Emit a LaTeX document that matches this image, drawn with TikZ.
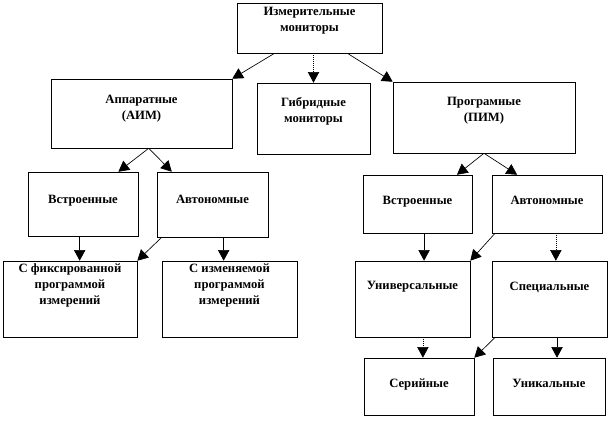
\documentclass[tikz,border=0pt]{standalone}
\usepackage{fontspec}
\setmainfont{Liberation Serif}
\usetikzlibrary{positioning,calc,arrows.meta}

\begin{document}
\begin{tikzpicture}[x=0.75pt,y=-0.75pt,
    blok/.style={draw,inner sep=0pt,align=center,font=\fontsize{9.5}{12}\selectfont\bfseries},
    strelka/.style={-{Triangle[width=8.5pt,length=8pt]},line width=0.5pt}]
    \useasboundingbox (0,0) rectangle (610,426);

    \node[blok,minimum width=108.75pt,minimum height=37.5pt,text depth=13pt] (top) at (309.5,28) {Измерительные\\мониторы};
    \node[blok,minimum width=135.75pt,minimum height=51.75pt,text depth=9.5pt] (apparat) at (141.5,113.5) {Аппаратные\\(АИМ)};
    \node[blok,minimum width=84.75pt,minimum height=53.25pt,text depth=12.5pt] (gibrid) at (313.5,118.5) {Гибридные\\мониторы};
    \node[blok,minimum width=136.5pt,minimum height=53.25pt,text depth=12.5pt] (program) at (484,117.5) {Програмные\\(ПИМ)};

    \node[blok,minimum width=82.5pt,minimum height=48pt,text depth=7.5pt] (vstrL) at (83,204) {Встроенные};
    \node[blok,minimum width=83.25pt,minimum height=48.75pt,text depth=7.5pt] (avtL) at (212.5,204.5) {Автономные};
    \node[blok,minimum width=100.5pt,minimum height=57pt,text depth=23pt] (fix) at (70,299) {С фиксированной\\программой\\измерений};
    \node[blok,minimum width=101.25pt,minimum height=57pt,text depth=23pt] (izm) at (229.5,299) {С изменяемой\\программой\\измерений};

    \node[blok,minimum width=81.75pt,minimum height=43.5pt,text depth=6pt] (vstrR) at (417.5,204) {Встроенные};
    \node[blok,minimum width=82.5pt,minimum height=43.5pt,text depth=6pt] (avtR) at (547,204) {Автономные};
    \node[blok,minimum width=86.25pt,minimum height=57pt,text depth=21pt] (univ) at (412.5,299) {Универсальные};
    \node[blok,minimum width=86.25pt,minimum height=57pt,text depth=19.5pt] (spec) at (549.5,299) {Специальные};
    \node[blok,minimum width=82.5pt,minimum height=42.75pt,text depth=4.5pt] (seri) at (419,386.5) {Серийные};
    \node[blok,minimum width=84pt,minimum height=42.75pt,text depth=4.5pt] (unik) at (549,386.5) {Уникальные};

    % verhnij uroven
    \draw[strelka] ($(top.south west)!0.26!(top.south east)$) -- (apparat.north east);
    \draw[strelka,densely dotted] (gibrid.north |- top.south) -- (gibrid.north);
    \draw[strelka] ($(top.south west)!0.76!(top.south east)$) -- (program.north west);

    % apparatnye
    \draw[strelka] ($(apparat.south west)!0.54!(apparat.south east)$) -- ($(vstrL.north west)!0.82!(vstrL.north east)$);
    \draw[strelka] ($(apparat.south west)!0.54!(apparat.south east)$) -- ($(avtL.north west)!0.135!(avtL.north east)$);
    \draw[strelka] ($(vstrL.south west)!0.47!(vstrL.south east)$) coordinate (a1) -- (a1 |- fix.north);
    \draw[strelka] ($(avtL.south west)!0.045!(avtL.south east)$) -- (fix.north east);
    \draw[strelka] ($(avtL.south west)!0.6!(avtL.south east)$) coordinate (a2) -- (a2 |- izm.north);

    % programnye
    \draw[strelka] (program.south) -- ($(vstrR.north west)!0.86!(vstrR.north east)$);
    \draw[strelka] (program.south) -- ($(avtR.north west)!0.23!(avtR.north east)$);
    \draw[strelka] ($(vstrR.south west)!0.56!(vstrR.south east)$) coordinate (p1) -- (p1 |- univ.north);
    \draw[strelka] ($(avtR.south west)!0.03!(avtR.south east)$) -- (univ.north east);
    \draw[strelka,densely dotted] ($(avtR.south west)!0.58!(avtR.south east)$) coordinate (p2) -- (p2 |- spec.north);
    \draw[strelka,densely dotted] ($(univ.south west)!0.59!(univ.south east)$) coordinate (p3) -- (p3 |- seri.north);
    \draw[strelka] ($(spec.south west)!0.03!(spec.south east)$) -- (seri.north east);
    \draw[strelka] ($(spec.south west)!0.565!(spec.south east)$) coordinate (p4) -- (p4 |- unik.north);
\end{tikzpicture}
\end{document}
